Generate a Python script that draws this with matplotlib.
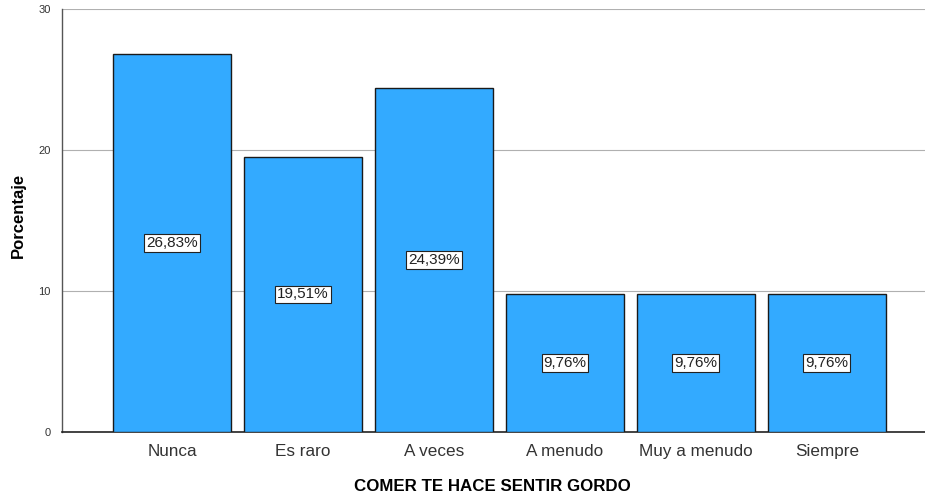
import matplotlib
matplotlib.use('Agg')
import matplotlib.pyplot as plt

# ── Data ────────────────────────────────────────────────────────────────
categories = ['Nunca', 'Es raro', 'A veces', 'A menudo', 'Muy a menudo', 'Siempre']
percentages = [26.83, 19.51, 24.39, 9.76, 9.76, 9.76]
y_ticks = [0, 10, 20, 30]

plt.rcParams['font.family'] = ['Liberation Sans', 'DejaVu Sans']

fig = plt.figure(figsize=(9.25, 4.95), dpi=100)
ax = fig.add_axes([0.067, 0.1273, 0.933, 0.8545])

x = list(range(len(categories)))
ax.bar(x, percentages, width=0.9, color='#33AAFF',
       edgecolor='#1a1a1a', linewidth=1.0, zorder=3)

# value labels in the middle of each bar
for xi, v in zip(x, percentages):
    ax.text(xi, v / 2, f'{v:.2f}%'.replace('.', ','), ha='center', va='center',
            fontsize=11, color='#222222', zorder=4,
            bbox=dict(boxstyle='square,pad=0.12', facecolor='white',
                      edgecolor='#222222', linewidth=0.8))

ax.set_xlim(-0.84, 5.75)
ax.set_ylim(0, 30)
ax.set_yticks(y_ticks)
ax.set_yticklabels([str(t) for t in y_ticks], fontsize=8, color='#333333')
ax.set_xticks(x)
ax.set_xticklabels(categories, fontsize=12.3, color='#333333')
ax.tick_params(axis='x', length=0, pad=9)
ax.tick_params(axis='y', length=0, pad=8)

ax.yaxis.grid(True, color='#b0b0b0', linewidth=0.8, zorder=0)
for side in ['top', 'right']:
    ax.spines[side].set_visible(False)
ax.spines['left'].set_color('#555555')
ax.spines['bottom'].set_color('#222222')
ax.spines['left'].set_linewidth(1.0)
ax.spines['bottom'].set_linewidth(1.2)

ax.set_xlabel('COMER TE HACE SENTIR GORDO', fontsize=12.2, fontweight='bold',
              va='center')
ax.set_ylabel('Porcentaje', fontsize=12, fontweight='bold', va='center')
ax.xaxis.set_label_coords((492 - 62) / 863, (432 - 487) / 423)
ax.yaxis.set_label_coords((18 - 62) / 863, (432 - 215) / 423)

fig.savefig('out.png', dpi=100)
